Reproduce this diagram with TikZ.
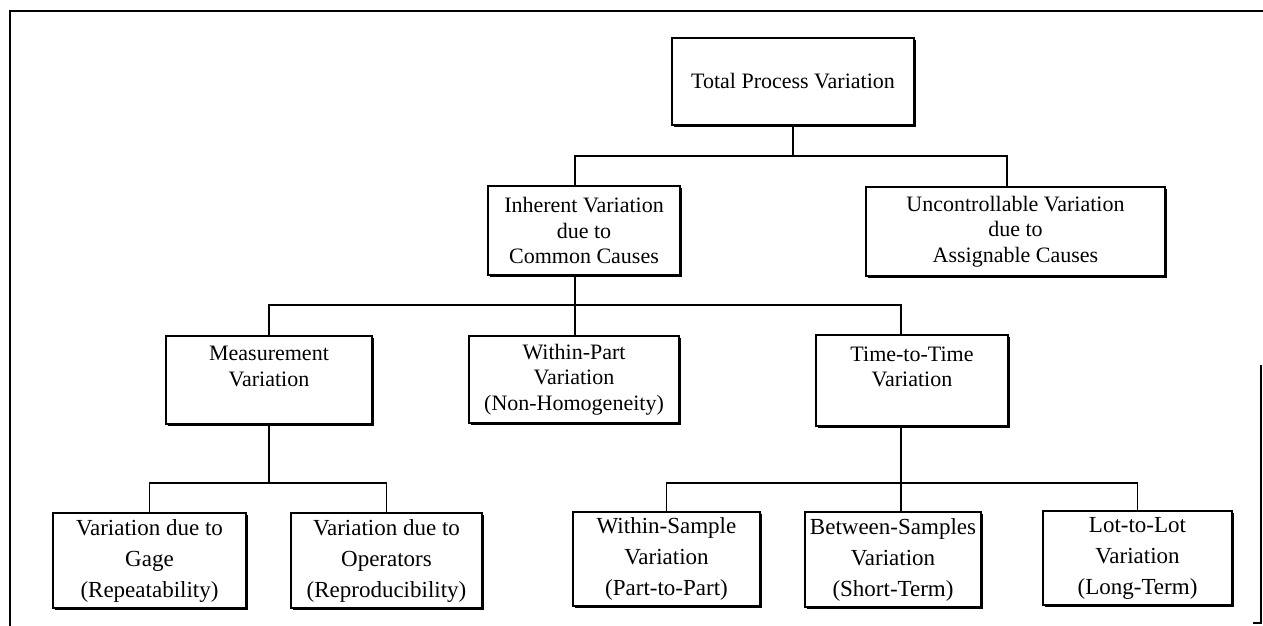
\documentclass[tikz,border=0pt]{standalone}
\usepackage{fontspec}
\setmainfont{Liberation Serif}
\usetikzlibrary{shadows}

\begin{document}
\begin{tikzpicture}[x=0.5pt, y=-0.5pt]
    \tikzstyle{box} = [shape=rectangle, draw=black, fill=white, line width=1pt, inner sep=0pt,
        align=center, font=\fontsize{11}{12.75}\selectfont,
        drop shadow={shadow xshift=1.2pt, shadow yshift=-1.2pt, fill=black, opacity=1}]
    \tikzstyle{leaf} = [box, font=\fontsize{11.5}{15.5}\selectfont]
    \tikzstyle{link} = [draw=black, line width=0.7pt]
    \tikzstyle{frame} = [draw=black, line width=1.4pt]

    \useasboundingbox (0, 0) rectangle (1263, 626);

    % 外框
    \draw [frame] (10, 626) -- (10, 11) -- (1263, 11);
    \draw [frame] (1261, 365) -- (1261, 623) -- (1253, 623);

    % 节点
    \path   (793, 81.5) node [box, name=total, minimum width=121pt, minimum height=43.5pt] {Total Process Variation}
            (584, 230.5) node [box, name=inherent, minimum width=96pt, minimum height=44.5pt] {Inherent Variation\\due to\\Common Causes}
            (1015.5, 231.5) node [box, name=uncontrol, minimum width=149.5pt, minimum height=44.5pt] {Uncontrollable Variation\\due to\\Assignable Causes}
            (269, 380) node [box, name=measure, minimum width=103pt, minimum height=44pt] {Measurement\\Variation\\[-3pt]\strut}
            (574, 379.5) node [box, name=withinpart, minimum width=105pt, minimum height=43.5pt] {Within-Part\\Variation\\(Non-Homogeneity)}
            (912, 380.5) node [box, name=timetime, minimum width=96pt, minimum height=45.5pt] {Time-to-Time\\Variation\\[-3pt]\strut}
            (149.5, 560.5) node [leaf, name=gage, minimum width=96.5pt, minimum height=47.5pt] {Variation due to\\Gage\\(Repeatability)}
            (386.5, 560.5) node [leaf, name=operators, minimum width=95.5pt, minimum height=47.5pt] {Variation due to\\Operators\\(Reproducibility)}
            (666.5, 559) node [leaf, name=withinsample, minimum width=93.5pt, minimum height=47pt] {Within-Sample\\Variation\\(Part-to-Part)}
            (893, 559.5) node [leaf, name=between, minimum width=88pt, minimum height=47.5pt] {Between-Samples\\Variation\\(Short-Term)}
            (1137.5, 558) node [leaf, name=lot, minimum width=94.5pt, minimum height=47pt] {Lot-to-Lot\\Variation\\(Long-Term)};

    % 连线
    \coordinate (b1) at (793, 156);
    \coordinate (b2) at (575, 305);
    \coordinate (b3) at (269, 483);
    \coordinate (b4) at (901, 483);

    \draw [link] (total) -- (b1);
    \draw [link] ([xshift=-4.5pt]inherent.north) |- (b1) -| ([xshift=-4.25pt]uncontrol.north);

    \draw [link] ([xshift=-4.5pt]inherent.south) -- (b2);
    \draw [link] (measure.north) |- (b2) -| ([xshift=-5.5pt]timetime.north);
    \draw [link] (b2) -- (b2 |- withinpart.north);

    \draw [link] (measure) -- (b3);
    \draw [link] (gage.north) |- (b3) -| (operators.north);

    \draw [link] ([xshift=-5.5pt]timetime.south) -- (b4);
    \draw [link] (withinsample.north) |- (b4) -| (lot.north);
    \draw [link] (b4) -- (b4 |- between.north);
\end{tikzpicture}
\end{document}
